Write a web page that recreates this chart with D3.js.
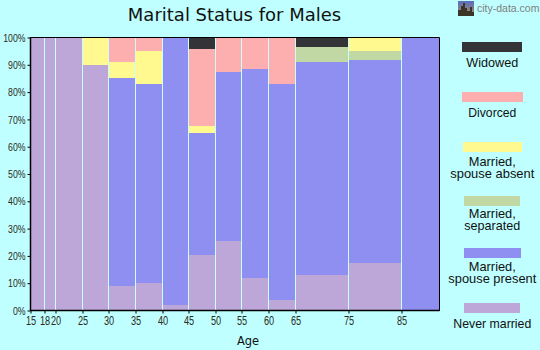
<!DOCTYPE html>
<html>
<head>
<meta charset="utf-8">
<script src="https://cdn.jsdelivr.net/npm/d3@7"></script>
<style>
html, body { margin: 0; padding: 0; background: #bfffff; }
svg { display: block; }
text { fill: #111; }
</style>
</head>
<body>
<div id="chart"></div>
<script>
// bin edges, last one is the open 85+ bin
const ageEdges = [15, 18, 20, 25, 30, 35, 40, 45, 50, 55, 60, 65, 75, 85, 92]
const ageTicks = [15, 18, 20, 25, 30, 35, 40, 45, 50, 55, 60, 65, 75, 85]
const percentTicks = [0, 10, 20, 30, 40, 50, 60, 70, 80, 90, 100]

// share of each bin in %, bottom of stack first
const neverMarried   = [100, 100, 100, 90, 9, 10, 2, 20.5, 25.3, 12, 4, 13, 17.5, 0]
const spousePresent  = [0, 0, 0, 0, 76, 73, 98, 44.5, 62, 76.3, 79, 78, 74.2, 100]
const separated      = [0, 0, 0, 0, 0, 0, 0, 0, 0, 0, 0, 5.6, 3.3, 0]
const spouseAbsent   = [0, 0, 0, 10, 6.2, 12.2, 0, 2.5, 0, 0, 0, 0, 5, 0]
const divorced       = [0, 0, 0, 0, 8.8, 4.8, 0, 28.3, 12.7, 11.7, 17, 0, 0, 0]
const widowed        = [0, 0, 0, 0, 0, 0, 0, 4.2, 0, 0, 0, 3.4, 0, 0]

const seriesNames = ["Never married", "Married, spouse present", "Married, separated", "Married, spouse absent", "Divorced", "Widowed"]
const seriesValues = [neverMarried, spousePresent, separated, spouseAbsent, divorced, widowed]
const seriesColors = ["#bda7d9", "#8f8ff2", "#c2d8a4", "#fff98f", "#fdaeae", "#343438"]

const width = 540
const height = 350
const bg = "#bfffff"

const svg = d3.select("#chart")
    .append("svg")
    .attr("width", width)
    .attr("height", height)

svg.append("rect")
    .attr("width", width)
    .attr("height", height)
    .attr("fill", bg)

// bins are not quite even in the original so the scale is piecewise
const x = d3.scaleLinear()
    .domain(ageEdges)
    .range([30.5, 44.5, 55.5, 82.5, 108.5, 135.5, 162.5, 188.5, 215.5, 241.5, 268.5, 295.5, 348.5, 401.5, 439.5])

const y = d3.scaleLinear()
    .domain([0, 100])
    .range([310.5, 37.5])

const rows = ageEdges.slice(0, -1).map((age, i) => {
    const row = { age, next: ageEdges[i + 1] }
    seriesNames.forEach((name, s) => { row[name] = seriesValues[s][i] })
    return row
})

const stacked = d3.stack().keys(seriesNames)(rows)

const layers = svg.append("g")
    .attr("shape-rendering", "crispEdges")
    .selectAll("g")
    .data(stacked)
    .join("g")
    .attr("fill", (d, i) => seriesColors[i])

layers.selectAll("rect")
    .data(d => d.filter(p => p[1] > p[0]))
    .join("rect")
    .attr("x", d => x(d.data.age))
    .attr("width", d => x(d.data.next) - x(d.data.age))
    .attr("y", d => y(d[1]))
    .attr("height", d => y(d[0]) - y(d[1]))

// light separators between the bins
svg.append("g")
    .selectAll("line")
    .data(ageTicks.slice(1))
    .join("line")
    .attr("x1", d => x(d))
    .attr("x2", d => x(d))
    .attr("y1", y(100))
    .attr("y2", y(0))
    .attr("stroke", "#c8ffff")
    .attr("stroke-width", 1)

// frame
svg.append("path")
    .attr("d", `M${x(15)},${y(100)}H${x(92)}V${y(0)}H${x(15)}Z`)
    .attr("fill", "none")
    .attr("stroke", "#000")
    .attr("stroke-width", 1)
svg.append("line")
    .attr("x1", x(15)).attr("x2", x(15))
    .attr("y1", y(100)).attr("y2", y(0))
    .attr("stroke", "#000")
    .attr("stroke-width", 1.5)
svg.append("line")
    .attr("x1", x(15)).attr("x2", x(92))
    .attr("y1", y(0)).attr("y2", y(0))
    .attr("stroke", "#000")
    .attr("stroke-width", 1.5)

const xAxis = svg.append("g")
    .attr("transform", `translate(0,${y(0)})`)
    .call(d3.axisBottom(x).tickValues(ageTicks).tickFormat(d => d).tickSize(3).tickSizeOuter(0))
xAxis.select(".domain").remove()

const yAxis = svg.append("g")
    .attr("transform", `translate(${x(15)},0)`)
    .call(d3.axisLeft(y).tickValues(percentTicks).tickFormat(d => `${d}%`).tickSize(3).tickSizeOuter(0))
yAxis.select(".domain").remove()

// tick labels are tall and narrow in the original, so squeeze them sideways
xAxis.selectAll("text")
    .attr("y", 5)
    .attr("dy", "0.72em")
    .attr("transform", "scale(0.68,1)")
    .style("font-size", "13.5px")
yAxis.selectAll("text")
    .attr("x", -5 / 0.76)
    .attr("transform", "scale(0.76,1)")
    .style("font-size", "11.5px")
svg.selectAll(".tick text")
    .style("font-family", "'Liberation Sans', sans-serif")
    .style("fill", "#2b2a20")

svg.append("text")
    .attr("x", 234.5)
    .attr("y", 21)
    .attr("text-anchor", "middle")
    .style("font-family", "'DejaVu Sans', sans-serif")
    .style("font-size", "18px")
    .text("Marital Status for Males")

svg.append("text")
    .attr("x", 248)
    .attr("y", 345)
    .attr("text-anchor", "middle")
    .style("font-family", "'DejaVu Sans', sans-serif")
    .style("font-size", "11.5px")
    .text("Age")

// legend, top to bottom
const legendItems = [
    { key: "Widowed", lines: ["Widowed"], widths: [52], y: 42, textY: 67, x0: 462, x1: 522 },
    { key: "Divorced", lines: ["Divorced"], widths: [48], y: 92, textY: 117, x0: 462, x1: 523 },
    { key: "Married, spouse absent", lines: ["Married,", "spouse absent"], widths: [47, 84], y: 142, textY: 166, x0: 463, x1: 522 },
    { key: "Married, separated", lines: ["Married,", "separated"], widths: [47, 56], y: 196, textY: 218, x0: 464, x1: 520 },
    { key: "Married, spouse present", lines: ["Married,", "spouse present"], widths: [47, 88], y: 248, textY: 271, x0: 464, x1: 521 },
    { key: "Never married", lines: ["Never married"], widths: [78], y: 303, textY: 328, x0: 464, x1: 520 }
]

const legend = svg.append("g")
    .selectAll("g")
    .data(legendItems)
    .join("g")

legend.append("rect")
    .attr("x", d => d.x0)
    .attr("y", d => d.y)
    .attr("width", d => d.x1 - d.x0)
    .attr("height", 10)
    .attr("fill", d => seriesColors[seriesNames.indexOf(d.key)])

legend.selectAll("text")
    .data(d => d.lines.map((line, i) => ({ line, i, y: d.textY, w: d.widths[i] })))
    .join("text")
    .attr("x", 492.3)
    .attr("y", d => d.y + d.i * 12)
    .attr("text-anchor", "middle")
    .attr("textLength", d => d.w)
    .attr("lengthAdjust", "spacingAndGlyphs")
    .style("font-family", "'Liberation Sans', sans-serif")
    .style("font-size", "13.5px")
    .text(d => d.line)

// city-data logo
const defs = svg.append("defs")
const sky = defs.append("linearGradient")
    .attr("id", "sky")
    .attr("x1", "0%").attr("x2", "0%")
    .attr("y1", "0%").attr("y2", "100%")
sky.append("stop").attr("offset", "0%").attr("stop-color", "#5a6fc0")
sky.append("stop").attr("offset", "100%").attr("stop-color", "#a88a60")

const logo = svg.append("g").attr("transform", "translate(458,1)")
logo.append("rect").attr("width", 16).attr("height", 15).attr("fill", "url(#sky)")
logo.append("path")
    .attr("d", "M0,15V9H3V5H5V2H7V7H9V10H12V6H14V11H16V15Z")
    .attr("fill", "#3a3526")

svg.append("text")
    .attr("x", 477)
    .attr("y", 12)
    .style("font-family", "'Liberation Sans', sans-serif")
    .style("font-size", "10.5px")
    .style("fill", "#808080")
    .text("city-data.com")
</script>
</body>
</html>
